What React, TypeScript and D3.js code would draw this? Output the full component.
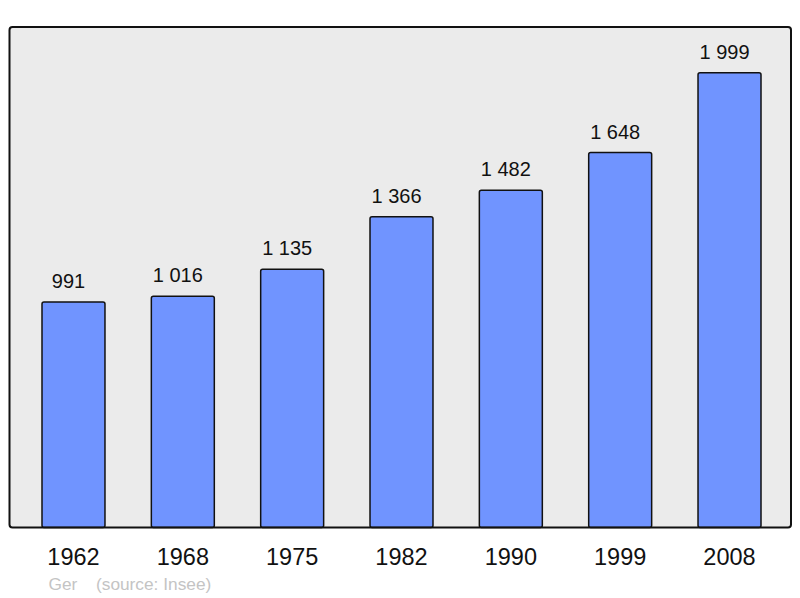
import React, { useEffect, useRef } from 'react';
import * as d3 from 'd3';

const years = ['1962', '1968', '1975', '1982', '1990', '1999', '2008'];
const population = [991, 1016, 1135, 1366, 1482, 1648, 1999];
const valueLabels = ['991', '1 016', '1 135', '1 366', '1 482', '1 648', '1 999'];
const yDomainMax = 2200;
const footerName = 'Ger';
const footerSource = '(source: Insee)';

const width = 800;
const height = 598;

const App: React.FC = () => {
  const svgRef = useRef<SVGSVGElement>(null);

  useEffect(() => {
    if (!svgRef.current) return;
    document.body.style.margin = '0';

    const svg = d3.select(svgRef.current);
    svg.selectAll('*').remove();

    const panel = { left: 9.5, top: 27, right: 791, bottom: 527.5 };

    // Scales
    const xScale = d3.scaleBand<string>()
      .domain(years)
      .range([42, 761])
      .paddingInner(0.424)
      .paddingOuter(0);

    const yScale = d3.scaleLinear()
      .domain([0, yDomainMax])
      .range([panel.bottom, panel.top]);

    // Panel background
    svg.append('rect')
      .attr('x', panel.left)
      .attr('y', panel.top)
      .attr('width', panel.right - panel.left)
      .attr('height', panel.bottom - panel.top)
      .attr('rx', 3)
      .attr('fill', '#ebebeb');

    // Bars
    svg.selectAll('.bar')
      .data(population)
      .enter()
      .append('rect')
      .attr('class', 'bar')
      .attr('x', (d, i) => xScale(years[i]) as number)
      .attr('y', d => yScale(d))
      .attr('width', xScale.bandwidth())
      .attr('height', d => yScale(0) - yScale(d))
      .attr('rx', 2)
      .attr('fill', '#7094ff')
      .attr('stroke', '#111')
      .attr('stroke-width', 1.5);

    // Value labels above bars
    svg.selectAll('.value-label')
      .data(population)
      .enter()
      .append('text')
      .attr('class', 'value-label')
      .attr('x', (d, i) => (xScale(years[i]) as number) + xScale.bandwidth() / 2 - 5)
      .attr('y', d => yScale(d) - 14)
      .attr('text-anchor', 'middle')
      .style('font-family', '"Liberation Sans", Arial, sans-serif')
      .style('font-size', '20px')
      .attr('fill', '#111')
      .text((d, i) => valueLabels[i]);

    // Panel border on top
    svg.append('rect')
      .attr('x', panel.left)
      .attr('y', panel.top)
      .attr('width', panel.right - panel.left)
      .attr('height', panel.bottom - panel.top)
      .attr('rx', 3)
      .attr('fill', 'none')
      .attr('stroke', '#111')
      .attr('stroke-width', 2);

    // Year labels
    const xAxis = svg.append('g')
      .attr('transform', `translate(0,${panel.bottom})`)
      .call(d3.axisBottom(xScale).tickSize(0).tickPadding(0));
    xAxis.select('.domain').remove();
    xAxis.selectAll('text')
      .attr('y', 37.5)
      .attr('dy', null)
      .style('font-family', '"Liberation Sans", Arial, sans-serif')
      .style('font-size', '23.5px')
      .attr('fill', '#111');

    // Footer
    svg.append('text')
      .attr('x', 48.5)
      .attr('y', 590)
      .style('font-family', '"Liberation Sans", Arial, sans-serif')
      .style('font-size', '17.3px')
      .attr('fill', '#c4c4c4')
      .text(footerName);

    svg.append('text')
      .attr('x', 96)
      .attr('y', 590)
      .style('font-family', '"Liberation Sans", Arial, sans-serif')
      .style('font-size', '17.3px')
      .attr('fill', '#c4c4c4')
      .text(footerSource);
  }, []);

  return (
    <svg
      ref={svgRef}
      width={width}
      height={height}
      style={{ position: 'absolute', left: 0, top: 0, background: '#fff' }}
    />
  );
};

export default App;
